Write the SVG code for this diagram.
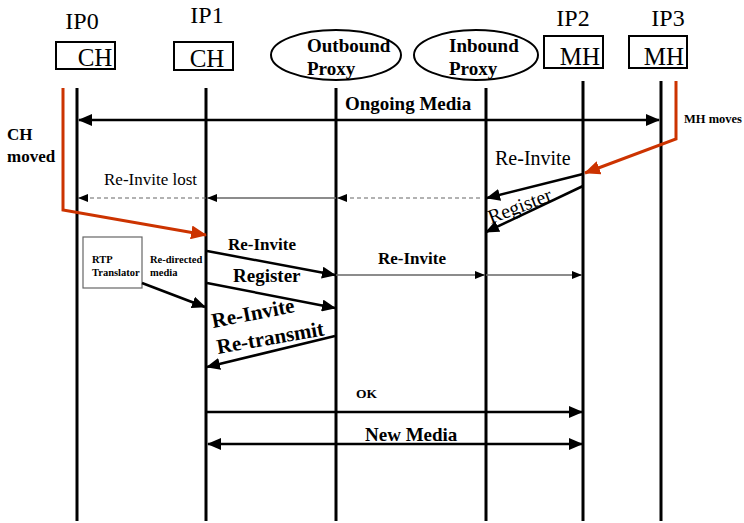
<svg xmlns="http://www.w3.org/2000/svg" width="744" height="523" viewBox="0 0 744 523">
<defs>
<style>
.ser{font-family:"Liberation Serif","Times New Roman",serif;fill:#000}
.b{font-weight:bold}
.life{stroke:#000;stroke-width:3;fill:none}
.box{fill:#fff;stroke:#000;stroke-width:2}
.msg{stroke:#000;stroke-width:2.5;fill:none}
.thin{stroke:#666;stroke-width:1.5;fill:none}
.dash{stroke:#666;stroke-width:1.2;fill:none;stroke-dasharray:4 3}
.red{stroke:#cc3300;stroke-width:3;fill:none}
</style>
<marker id="ah" markerUnits="userSpaceOnUse" markerWidth="14" markerHeight="12" refX="13" refY="6" orient="auto-start-reverse"><path d="M0,0 L14,6 L0,12 z" fill="#000"/></marker>
<marker id="ahs" markerUnits="userSpaceOnUse" markerWidth="10" markerHeight="8" refX="10" refY="4" orient="auto"><path d="M0,0 L10,4 L0,8 z" fill="#000"/></marker>
<marker id="ahr" markerUnits="userSpaceOnUse" markerWidth="16" markerHeight="14" refX="15" refY="7" orient="auto"><path d="M0,0 L16,7 L0,14 z" fill="#cc3300"/></marker>
</defs>
<rect width="744" height="523" fill="#fff"/>

<g id="IP0">
<text class="ser" x="82" y="29" font-size="24" text-anchor="middle">IP0</text>
<rect class="box" x="56" y="42" width="59" height="27"/>
<text class="ser" x="95" y="66" font-size="25" text-anchor="middle">CH</text>
<line class="life" x1="77" y1="88" x2="77" y2="521"/>
</g>
<g id="IP1">
<text class="ser" x="207" y="23" font-size="24" text-anchor="middle">IP1</text>
<rect class="box" x="174" y="42" width="59" height="28"/>
<text class="ser" x="207" y="67" font-size="25" text-anchor="middle">CH</text>
<line class="life" x1="206" y1="88" x2="206" y2="521"/>
</g>
<g id="outbound">
<ellipse class="box" cx="336" cy="55" rx="65" ry="25"/>
<text class="ser b" x="307" y="52" font-size="19">Outbound</text>
<text class="ser b" x="307" y="75" font-size="19">Proxy</text>
<line class="life" x1="336" y1="88" x2="336" y2="521"/>
</g>
<g id="inbound">
<ellipse class="box" cx="476" cy="55" rx="62" ry="25"/>
<text class="ser b" x="449" y="52" font-size="19">Inbound</text>
<text class="ser b" x="449" y="75" font-size="19">Proxy</text>
<line class="life" x1="486" y1="88" x2="486" y2="521"/>
</g>
<g id="IP2">
<text class="ser" x="573" y="26" font-size="24" text-anchor="middle">IP2</text>
<rect class="box" x="544" y="36" width="59" height="32"/>
<text class="ser" x="580" y="65" font-size="25" text-anchor="middle">MH</text>
<line class="life" x1="583" y1="81" x2="583" y2="521"/>
</g>
<g id="IP3">
<text class="ser" x="668" y="26" font-size="24" text-anchor="middle">IP3</text>
<rect class="box" x="629" y="36" width="58" height="32"/>
<text class="ser" x="664" y="65" font-size="25" text-anchor="middle">MH</text>
<line class="life" x1="661" y1="81" x2="661" y2="521"/>
</g>
<g id="rtp">
<rect x="83" y="237" width="59" height="51" fill="#fff" stroke="#666" stroke-width="1.2"/>
<text class="ser b" x="92" y="263" font-size="10.5">RTP</text>
<text class="ser b" x="92" y="276" font-size="10.5">Translator</text>
</g>

<g id="connectors">
<line class="msg" x1="79" y1="120" x2="659" y2="120" marker-start="url(#ah)" marker-end="url(#ah)"/>
<text class="ser b" x="345" y="110" font-size="19">Ongoing Media</text>

<polyline class="red" points="63,88 63,210 206,235" marker-end="url(#ahr)"/>
<text class="ser b" x="7" y="140" font-size="17">CH</text>
<text class="ser b" x="7" y="162" font-size="17">moved</text>

<polyline class="red" points="676,81 676,139 585,173" marker-end="url(#ahr)"/>
<text class="ser b" x="684" y="123" font-size="12.5">MH moves</text>

<line class="dash" x1="480" y1="198" x2="337" y2="198" marker-end="url(#ahs)"/>
<line class="thin" x1="336" y1="198" x2="207" y2="198" marker-end="url(#ahs)"/>
<line class="dash" x1="206" y1="198" x2="78" y2="198" marker-end="url(#ahs)"/>
<text class="ser" x="104" y="185" font-size="17" fill="#222">Re-Invite lost</text>

<line class="msg" x1="583" y1="174" x2="487" y2="198" marker-end="url(#ah)"/>
<text class="ser" x="495" y="165" font-size="20">Re-Invite</text>
<line class="msg" x1="583" y1="186" x2="486" y2="232" marker-end="url(#ah)"/>
<text class="ser" x="0" y="0" font-size="20" transform="translate(491,224) rotate(-21)">Register</text>

<line class="msg" x1="207" y1="251" x2="335" y2="275" marker-end="url(#ah)"/>
<text class="ser b" x="228" y="250" font-size="17">Re-Invite</text>
<line class="thin" x1="336" y1="275" x2="485" y2="275" marker-end="url(#ahs)"/>
<line class="thin" x1="486" y1="275" x2="582" y2="275" marker-end="url(#ahs)"/>
<text class="ser b" x="378" y="264" font-size="17">Re-Invite</text>

<line class="msg" x1="207" y1="283" x2="335" y2="308" marker-end="url(#ah)"/>
<text class="ser b" x="233" y="282" font-size="19">Register</text>

<line class="msg" x1="142" y1="283" x2="205" y2="307" marker-end="url(#ah)"/>
<text class="ser b" x="150" y="263" font-size="10.5">Re-directed</text>
<text class="ser b" x="150" y="276" font-size="10.5">media</text>

<line class="msg" x1="335" y1="336" x2="207" y2="367" marker-end="url(#ah)"/>
<text class="ser b" x="0" y="0" font-size="21" transform="translate(213,328) rotate(-11)">Re-Invite</text>
<text class="ser b" x="0" y="0" font-size="21" transform="translate(218,354) rotate(-10)">Re-transmit</text>

<line class="msg" x1="206" y1="412" x2="582" y2="412" marker-end="url(#ah)"/>
<text class="ser b" x="356" y="398" font-size="13.5">OK</text>

<line class="msg" x1="208" y1="444" x2="582" y2="444" marker-start="url(#ah)" marker-end="url(#ah)"/>
<text class="ser b" x="365" y="441" font-size="19">New Media</text>
</g>
</svg>
